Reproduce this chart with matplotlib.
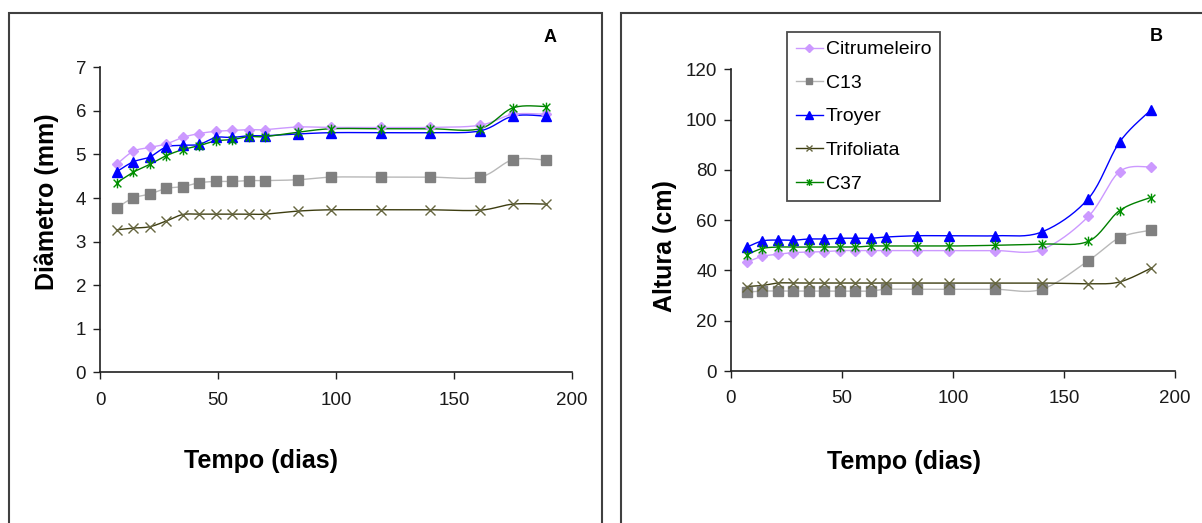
import numpy as np
import matplotlib
matplotlib.use("Agg")
import matplotlib.pyplot as plt
from matplotlib.path import Path
from matplotlib.lines import Line2D
from matplotlib.patches import Rectangle

plt.rcParams['font.family'] = ['Liberation Sans', 'DejaVu Sans']

# ---- data ----
dias = [7, 14, 21, 28, 35, 42, 49, 56, 63, 70, 84, 98, 119, 140, 161, 175, 189]
series_names = ["Citrumeleiro", "C13", "Troyer", "Trifoliata", "C37"]

diam_citrumeleiro = [4.77, 5.07, 5.16, 5.24, 5.39, 5.48, 5.53, 5.55, 5.57, 5.57, 5.63, 5.62, 5.62, 5.62, 5.67, 5.92, 5.92]
diam_c13 = [3.77, 4.00, 4.09, 4.22, 4.26, 4.35, 4.38, 4.38, 4.40, 4.40, 4.42, 4.48, 4.48, 4.48, 4.48, 4.88, 4.87]
diam_troyer = [4.60, 4.83, 4.94, 5.17, 5.21, 5.23, 5.39, 5.39, 5.43, 5.43, 5.47, 5.50, 5.50, 5.50, 5.54, 5.88, 5.88]
diam_trifoliata = [3.27, 3.31, 3.34, 3.47, 3.62, 3.63, 3.63, 3.63, 3.63, 3.63, 3.70, 3.73, 3.73, 3.73, 3.72, 3.86, 3.86]
diam_c37 = [4.35, 4.59, 4.77, 4.97, 5.11, 5.20, 5.31, 5.34, 5.41, 5.41, 5.51, 5.59, 5.59, 5.59, 5.59, 6.07, 6.10]

alt_citrumeleiro = [43.2, 45.6, 46.4, 47.1, 47.3, 47.5, 47.9, 47.9, 47.9, 47.9, 47.9, 47.9, 47.9, 48.3, 61.5, 79.3, 81.2]
alt_c13 = [31.4, 31.8, 31.8, 31.8, 31.8, 31.8, 31.8, 31.8, 31.8, 32.5, 32.5, 32.5, 32.5, 32.5, 43.9, 53.0, 56.0]
alt_troyer = [49.2, 51.7, 52.1, 52.0, 52.5, 52.5, 52.8, 52.8, 52.8, 53.3, 53.8, 53.8, 53.8, 55.3, 68.6, 91.0, 103.7]
alt_trifoliata = [33.6, 34.0, 35.0, 35.0, 35.0, 35.0, 35.0, 35.0, 35.0, 35.0, 35.0, 35.0, 35.0, 35.0, 34.7, 35.4, 40.8]
alt_c37 = [46.2, 48.7, 49.3, 49.3, 49.3, 49.3, 49.3, 49.3, 49.7, 49.7, 49.7, 49.7, 50.0, 50.5, 51.6, 63.8, 69.0]

diam_yticks = [0, 1, 2, 3, 4, 5, 6, 7]
alt_yticks = [0, 20, 40, 60, 80, 100, 120]
xticks = [0, 50, 100, 150, 200]

# ---- styles ----
star = Path([(-1, -1), (1, 1), (-1, 1), (1, -1), (0, -1.25), (0, 1.25)],
            [Path.MOVETO, Path.LINETO, Path.MOVETO, Path.LINETO, Path.MOVETO, Path.LINETO])
styles = {
    "Citrumeleiro": dict(color="#CC99FF", marker="D", mfc="#CC99FF", mec="#CC99FF", ms=5.5, lw=1.0),
    "C13": dict(color="#B8B8B8", marker="s", mfc="#808080", mec="#808080", ms=6.5, lw=1.0),
    "Troyer": dict(color="#0000FF", marker="^", mfc="#0000FF", mec="#0000FF", ms=7.5, lw=1.0),
    "Trifoliata": dict(color="#3D3D10", marker="x", mfc="none", mec="#666640", ms=7.0, lw=1.0),
    "C37": dict(color="#008000", marker=star, mfc="none", mec="#009000", ms=7.0, lw=1.0),
}


def smooth(x, y, sx, sy, n=20):
    # Bezier (Catmull-Rom) smoothing in screen-proportional space
    P = np.column_stack([np.asarray(x, float) * sx, np.asarray(y, float) * sy])
    out = [P[0]]
    m = len(P)
    for i in range(m - 1):
        p0 = P[i - 1] if i > 0 else P[i]
        p1 = P[i]
        p2 = P[i + 1]
        p3 = P[i + 2] if i + 2 < m else P[i + 1]
        c1 = p1 + (p2 - p0) / 6.0
        c2 = p2 - (p3 - p1) / 6.0
        t = np.linspace(0, 1, n)[1:, None]
        seg = ((1 - t) ** 3) * p1 + 3 * ((1 - t) ** 2) * t * c1 + 3 * (1 - t) * t ** 2 * c2 + t ** 3 * p2
        out.extend(seg)
    out = np.array(out)
    return out[:, 0] / sx, out[:, 1] / sy


W, H = 1202, 523
fig = plt.figure(figsize=(W / 100, H / 100), dpi=100)

# panel boxes
fig.patches.append(Rectangle((8.5 / W, -0.05), (602 - 8.5) / W, (H - 13) / H + 0.05,
                             transform=fig.transFigure, fill=False, ec="#404040", lw=1.5))
fig.patches.append(Rectangle((621 / W, -0.05), 0.6, (H - 13) / H + 0.05,
                             transform=fig.transFigure, fill=False, ec="#404040", lw=1.5))

axA = fig.add_axes([100 / W, (H - 372.3) / H, 472 / W, 305 / H])
axB = fig.add_axes([731 / W, (H - 371) / H, 444 / W, 301.7 / H])

dataA = [diam_citrumeleiro, diam_c13, diam_troyer, diam_trifoliata, diam_c37]
dataB = [alt_citrumeleiro, alt_c13, alt_troyer, alt_trifoliata, alt_c37]


def draw(ax, data, ymax, yticks):
    sx = 472 / 200.0
    sy = 305.0 / ymax
    for name, vals in zip(series_names, data):
        st = styles[name]
        xs, ys = smooth(dias, vals, sx, sy)
        ax.plot(xs, ys, color=st["color"], lw=st["lw"], zorder=2)
        ax.plot(dias, vals, linestyle="none", marker=st["marker"], mfc=st["mfc"],
                mec=st["mec"], ms=st["ms"], mew=1.0, zorder=3)
    ax.set_xlim(0, 200)
    ax.set_ylim(0, ymax)
    ax.set_xticks(xticks)
    ax.set_yticks(yticks)
    for s in ["top", "right"]:
        ax.spines[s].set_visible(False)
    for s in ["left", "bottom"]:
        ax.spines[s].set_color("#202020")
        ax.spines[s].set_linewidth(1.2)
    ax.tick_params(direction="out", length=5, width=1.0, color="#202020",
                   labelsize=13.5, labelcolor="#1a1a1a")
    ax.tick_params(axis="x", pad=9)
    ax.tick_params(axis="y", pad=5)
    ax.set_facecolor("none")


draw(axA, dataA, 7, diam_yticks)
draw(axB, dataB, 120, alt_yticks)

lab = dict(fontsize=18, fontweight="bold", ha="center", va="center")
fig.text(47 / W, 1 - 202 / H, "Diâmetro (mm)", rotation=90, **lab)
fig.text(665 / W, 1 - 246 / H, "Altura (cm)", rotation=90, **lab)
fig.text(260.5 / W, 1 - 461 / H, "Tempo (dias)", **lab)
fig.text(904 / W, 1 - 462 / H, "Tempo (dias)", **lab)

fig.text(550 / W, 1 - 38 / H, "A", fontsize=13, fontweight="bold", ha="center", va="center")
fig.text(1156 / W, 1 - 36 / H, "B", fontsize=13, fontweight="bold", ha="center", va="center")

handles = []
for name in series_names:
    st = styles[name]
    handles.append(Line2D([0], [0], color=st["color"], lw=st["lw"], marker=st["marker"],
                          mfc=st["mfc"], mec=st["mec"], ms=st["ms"] * 0.7, mew=1.0))
leg = axB.legend(handles, series_names, loc="upper left",
                 bbox_to_anchor=((787 - 731) / 444, (371 - 32) / 301.7),
                 frameon=True, fancybox=False, edgecolor="#202020", fontsize=14,
                 handlelength=1.4, handletextpad=0.15, labelspacing=0.82,
                 borderpad=0.45, borderaxespad=0)
leg.get_frame().set_linewidth(1.3)

fig.savefig("out.png", dpi=100)
